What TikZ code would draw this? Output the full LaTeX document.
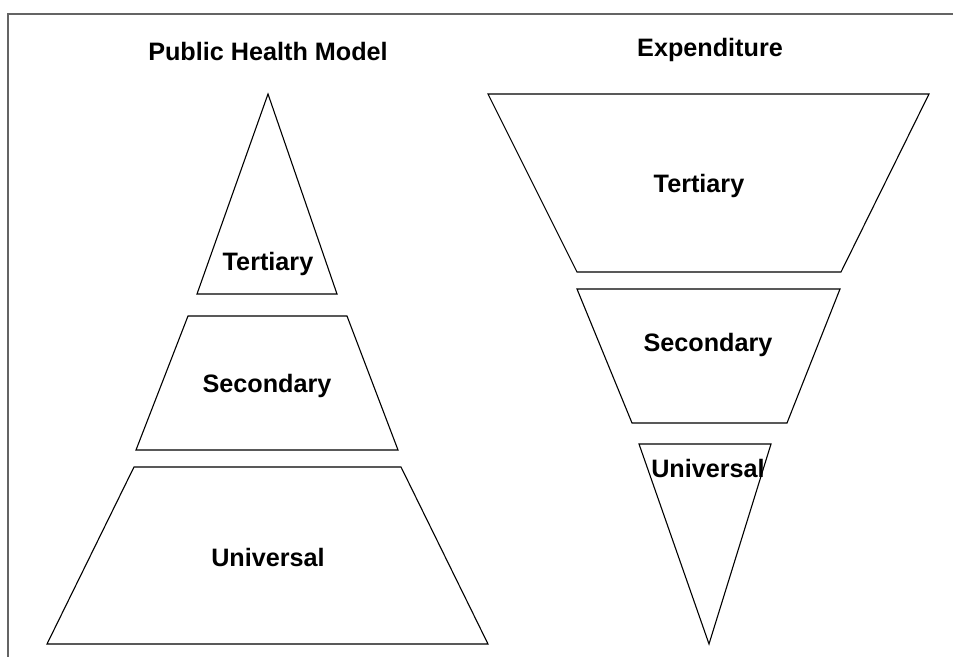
\documentclass[tikz,border=0pt]{standalone}
\usepackage{fontspec}
\setmainfont{Liberation Sans}
\definecolor{framegray}{RGB}{100,100,100}
\begin{document}
\begin{tikzpicture}[x=0.5pt,y=-0.5pt,
    layer/.style={draw=black,line width=0.55pt,line join=miter},
    label/.style={font=\fontsize{12.6}{14}\selectfont\bfseries,anchor=base,inner sep=0pt}]
    \useasboundingbox (0,0) rectangle (953,657);
    % Draw the frame
    \draw[framegray,line width=0.75pt] (8,657) -- (8,14) -- (953,14);

    % Public health model, pyramid
    \node[label] (modeltitle) at (268,61) {Public Health Model};
    \draw[layer] (268,94) -- (337,294) -- (197,294) -- cycle;
    \node[label] (modeltert) at (268,271) {Tertiary};
    \draw[layer] (188,316) -- (347,316) -- (398,450) -- (136,450) -- cycle;
    \node[label] (modelsec) at (267,393) {Secondary};
    \draw[layer] (134,467) -- (401,467) -- (488,644) -- (47,644) -- cycle;
    \node[label] (modeluni) at (268,566) {Universal};

    % Expenditure, inverted pyramid
    \node[label] (spendtitle) at (710,57) {Expenditure};
    \draw[layer] (488,94) -- (929,94) -- (841,272) -- (577,272) -- cycle;
    \node[label] (spendtert) at (699,193) {Tertiary};
    \draw[layer] (577,289) -- (840,289) -- (787,423) -- (632,423) -- cycle;
    \node[label] (spendsec) at (708,352) {Secondary};
    \draw[layer] (639,444) -- (771,444) -- (709,644) -- cycle;
    \node[label] (spenduni) at (708,478) {Universal};
\end{tikzpicture}
\end{document}
